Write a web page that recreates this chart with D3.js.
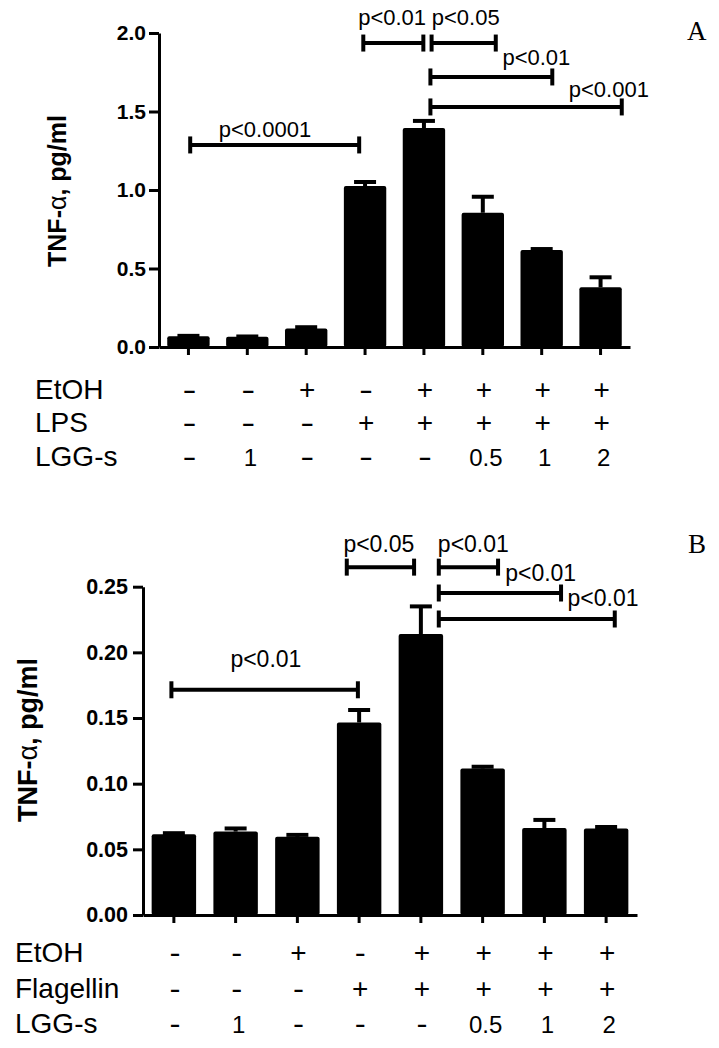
<!DOCTYPE html>
<html><head><meta charset="utf-8">
<script src="https://cdn.jsdelivr.net/npm/d3@7"></script>
<style>body{margin:0;background:#fff}svg{display:block}</style>
</head><body>
<svg id="c" width="719" height="1048"></svg>
<script>
// ---- data ----
const groups = ["1","2","3","4","5","6","7","8"];
const etoh      = ["-","-","+","-","+","+","+","+"];
const lps       = ["-","-","-","+","+","+","+","+"];
const flagellin = ["-","-","-","+","+","+","+","+"];
const lggs      = ["-","1","-","-","-","0.5","1","2"];

const meanA = [0.068, 0.065, 0.118, 1.025, 1.395, 0.855, 0.618, 0.380];
const errA  = [0.003, 0.002, 0.008, 0.026, 0.045, 0.102, 0.006, 0.064];
const meanB = [0.0615, 0.0635, 0.0595, 0.1466, 0.2140, 0.1115, 0.0662, 0.0658];
const errB  = [0.0008, 0.0024, 0.0015, 0.0095, 0.0210, 0.0014, 0.0062, 0.0012];

const ticksA = [0, 0.5, 1.0, 1.5, 2.0];
const ticksB = [0, 0.05, 0.10, 0.15, 0.20, 0.25];

// significance brackets: from/to in group-index units, y in value units
const sigA = [
  {from: 0.03, to: 2.90, y: 1.287, label: "p<0.0001", lx: 1.30, ly: 1.339},
  {from: 2.97, to: 3.99, y: 1.936, label: "p<0.01",   lx: 3.46, ly: 2.051},
  {from: 4.13, to: 5.22, y: 1.936, label: "p<0.05",   lx: 4.71, ly: 2.051},
  {from: 4.11, to: 6.18, y: 1.720, label: "p<0.01",   lx: 5.91, ly: 1.796},
  {from: 4.11, to: 7.36, y: 1.529, label: "p<0.001",  lx: 7.14, ly: 1.594}
];
const sigB = [
  {from: -0.04, to: 2.98, y: 0.1715, label: "p<0.01", lx: 1.49, ly: 0.1885},
  {from: 2.80,  to: 3.89, y: 0.2649, label: "p<0.05", lx: 3.32, ly: 0.2767},
  {from: 4.29,  to: 5.25, y: 0.2649, label: "p<0.01", lx: 4.85, ly: 0.2767},
  {from: 4.29,  to: 6.27, y: 0.2452, label: "p<0.01", lx: 5.94, ly: 0.2540},
  {from: 4.29,  to: 7.14, y: 0.2254, label: "p<0.01", lx: 6.95, ly: 0.2350}
];

const rowsA = [{name:"EtOH", vals: etoh}, {name:"LPS", vals: lps}, {name:"LGG-s", vals: lggs}];
const rowsB = [{name:"EtOH", vals: etoh}, {name:"Flagellin", vals: flagellin}, {name:"LGG-s", vals: lggs}];

// ---- drawing ----
const svg = d3.select("#c");
const SANS = "'Liberation Sans', Arial, sans-serif";

function drawPanel(cfg) {
  const g = svg.append("g");
  const x = d3.scaleBand().domain(groups).range([cfg.left, cfg.right])
              .paddingInner(0.28).paddingOuter(0.14);
  const y = d3.scaleLinear().domain([0, cfg.ymax]).range([cfg.bottom, cfg.top]);
  const bw = x.bandwidth();
  const xi = d3.scaleLinear().domain([0, 7]).range([x(groups[0]) + bw/2, x(groups[7]) + bw/2]);

  // bars
  g.selectAll("rect.bar").data(cfg.mean).join("rect")
    .attr("x", (d,i) => x(groups[i]))
    .attr("y", d => y(d))
    .attr("width", bw)
    .attr("height", d => y(0) - y(d))
    .attr("rx", 2).attr("fill", "#000");

  // error bars
  cfg.mean.forEach((m, i) => {
    const cx = x(groups[i]) + bw/2;
    const yt = y(m + cfg.err[i]);
    g.append("line").attr("x1", cx).attr("x2", cx).attr("y1", y(m)).attr("y2", yt)
      .attr("stroke", "#000").attr("stroke-width", 4);
    g.append("line").attr("x1", cx - 11).attr("x2", cx + 11).attr("y1", yt).attr("y2", yt)
      .attr("stroke", "#000").attr("stroke-width", 4);
  });

  // axes
  const ya = g.append("g").attr("transform", `translate(${cfg.left},0)`)
    .call(d3.axisLeft(y).tickValues(cfg.ticks).tickFormat(d3.format(cfg.fmt))
          .tickSize(10).tickPadding(cfg.tickPad).tickSizeOuter(0));
  const xa = g.append("g").attr("transform", `translate(0,${cfg.bottom})`)
    .call(d3.axisBottom(x).tickFormat("").tickSize(8).tickSizeOuter(0));
  [ya, xa].forEach(a => {
    a.select(".domain").attr("stroke", "#000").attr("stroke-width", 3);
    a.selectAll(".tick line").attr("stroke", "#000").attr("stroke-width", 3);
  });
  ya.selectAll(".tick text").attr("font-family", SANS).attr("font-weight", "bold")
    .attr("font-size", cfg.tickSize).attr("fill", "#000");

  // y label
  const yl = g.append("text")
    .attr("transform", `translate(${cfg.ylabX},${cfg.ylabY}) rotate(-90)`)
    .attr("text-anchor", "middle").attr("font-family", SANS)
    .attr("font-weight", "bold").attr("font-size", cfg.ylabSize).attr("fill", "#000");
  yl.append("tspan").text("TNF-");
  yl.append("tspan").attr("font-weight", "normal").text("α");
  yl.append("tspan").text(", pg/ml");

  // significance brackets
  cfg.sig.forEach(s => {
    const x1 = xi(s.from), x2 = xi(s.to), yy = y(s.y);
    g.append("line").attr("x1", x1).attr("x2", x2).attr("y1", yy).attr("y2", yy)
      .attr("stroke", "#000").attr("stroke-width", 4);
    [x1, x2].forEach(xx => g.append("line").attr("x1", xx).attr("x2", xx)
      .attr("y1", yy - 8.5).attr("y2", yy + 8.5).attr("stroke", "#000").attr("stroke-width", 4));
    g.append("text").attr("x", xi(s.lx)).attr("y", y(s.ly)).attr("text-anchor", "middle")
      .attr("font-family", SANS).attr("font-size", cfg.pSize).attr("fill", "#000").text(s.label);
  });

  // condition table
  cfg.rows.forEach((r, ri) => {
    const by = cfg.rowY[ri];
    g.append("text").attr("x", cfg.rowLabX).attr("y", by)
      .attr("font-family", SANS).attr("font-size", 28).attr("fill", "#000").text(r.name);
    r.vals.forEach((v, i) => {
      const isSign = (v === "+" || v === "-");
      const t = g.append("text").attr("x", x(groups[i]) + bw/2 + (isSign ? 1 : 3)).attr("y", by)
        .attr("text-anchor", "middle").attr("font-family", SANS)
        .attr("font-size", isSign ? 28 : 24).attr("fill", "#000").text(v);
      if (v === "-") t.attr("textLength", cfg.dashLen).attr("lengthAdjust", "spacingAndGlyphs");
    });
  });

  // panel letter
  g.append("text").attr("x", cfg.letX).attr("y", cfg.letY)
    .attr("font-family", "'Liberation Serif', 'Times New Roman', serif")
    .attr("font-size", 27).attr("fill", "#000").text(cfg.letter);
}

drawPanel({
  mean: meanA, err: errA, ymax: 2, ticks: ticksA, fmt: ".1f", sig: sigA, rows: rowsA,
  left: 159, right: 630, top: 33, bottom: 347, tickPad: 3, tickSize: 21,
  ylabX: 66, ylabY: 191, ylabSize: 25, pSize: 22, dashLen: 14,
  rowY: [399, 432, 466], rowLabX: 35, letter: "A", letX: 687, letY: 40
});
drawPanel({
  mean: meanB, err: errB, ymax: 0.25, ticks: ticksB, fmt: ".2f", sig: sigB, rows: rowsB,
  left: 143, right: 637, top: 586.7, bottom: 915, tickPad: 5, tickSize: 21.5,
  ylabX: 37, ylabY: 740, ylabSize: 27, pSize: 23, dashLen: 11,
  rowY: [962, 998, 1033], rowLabX: 15, letter: "B", letX: 688, letY: 553
});
</script>
</body></html>
